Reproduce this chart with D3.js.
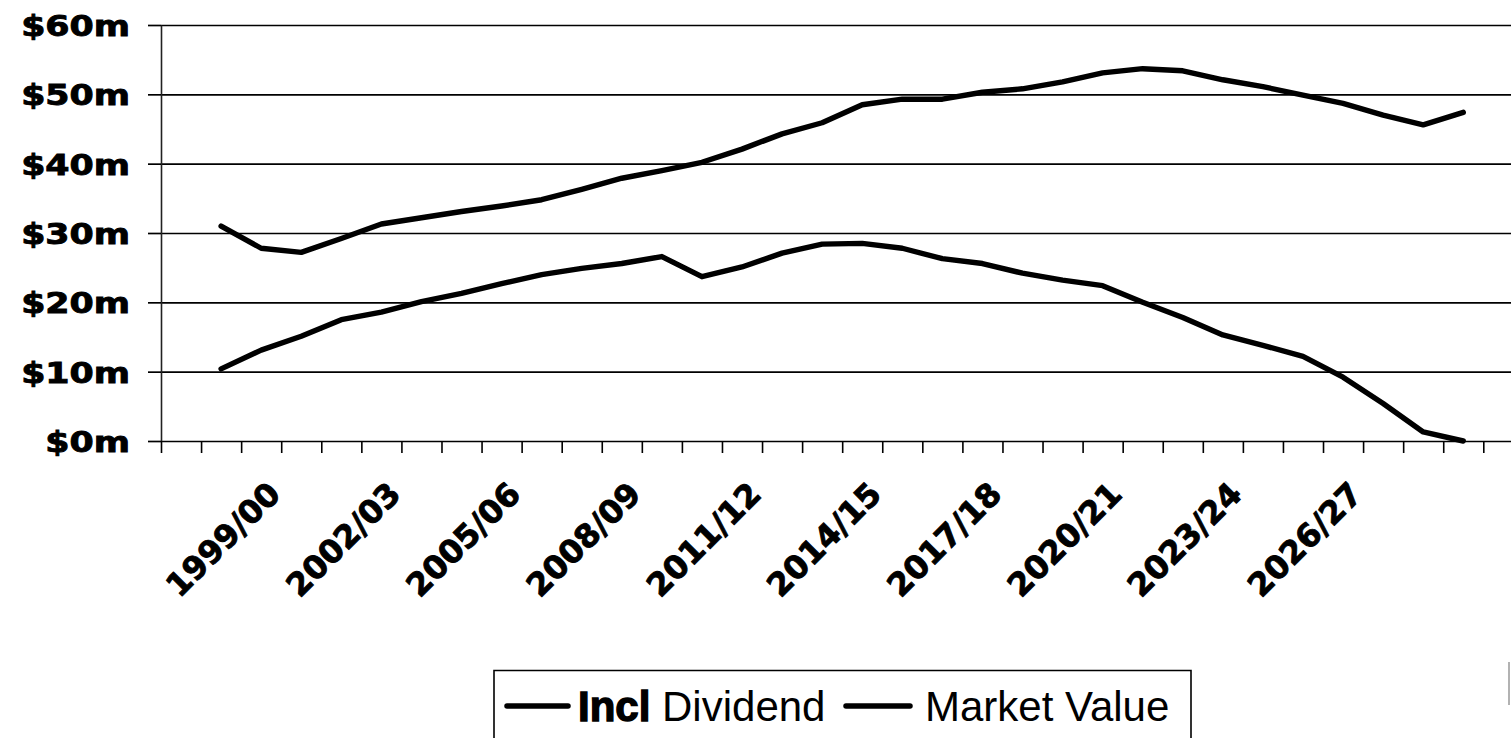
<!DOCTYPE html>
<html>
<head>
<meta charset="utf-8">
<script src="https://cdn.jsdelivr.net/npm/d3@7"></script>
<style>
  html, body { margin: 0; padding: 0; background: #fff; overflow: hidden; }
  svg { display: block; }
</style>
</head>
<body>
<svg id="chart" width="1511" height="738"></svg>
<script>
// ---------------- data ----------------
const categories = [
  "1997/98","1998/99","1999/00","2000/01","2001/02","2002/03","2003/04","2004/05",
  "2005/06","2006/07","2007/08","2008/09","2009/10","2010/11","2011/12","2012/13",
  "2013/14","2014/15","2015/16","2016/17","2017/18","2018/19","2019/20","2020/21",
  "2021/22","2022/23","2023/24","2024/25","2025/26","2026/27","2027/28","2028/29","2029/30"
];
const tickLabels = ["1999/00","2002/03","2005/06","2008/09","2011/12","2014/15","2017/18","2020/21","2023/24","2026/27"];
const inclDividend = [
  null, 31.0, 27.8, 27.2, 29.2, 31.3, 32.2, 33.1, 33.9, 34.8, 36.3, 37.9, 39.0, 40.2, 42.1, 44.3,
  45.9, 48.5, 49.3, 49.3, 50.3, 50.8, 51.8, 53.1, 53.7, 53.4, 52.1, 51.1, 49.9, 48.7, 47.0, 45.6, 47.4
];
const marketValue = [
  null, 10.4, 13.1, 15.1, 17.5, 18.6, 20.1, 21.3, 22.7, 24.0, 24.9, 25.6, 26.6, 23.7, 25.1, 27.1,
  28.4, 28.5, 27.8, 26.3, 25.6, 24.2, 23.2, 22.4, 20.0, 17.8, 15.3, 13.8, 12.2, 9.2, 5.4, 1.3, 0.0
];
const yTicks = [0, 10, 20, 30, 40, 50, 60];
const seriesNames = ["Incl Dividend", "Market Value"];

// ---------------- layout ----------------
const W = 1511, H = 738;
const plotL = 161, plotR = 1483.3, plotT = 25, plotB = 441;
const svg = d3.select("#chart");

const x = d3.scaleBand().domain(categories).range([plotL, plotR]).paddingInner(0).paddingOuter(0);
const xb = d3.scaleLinear().domain([0, categories.length]).range([plotL, plotR]);
const y = d3.scaleLinear().domain([0, 60]).range([plotB, plotT]);

// gridlines
const grid = svg.append("g").attr("transform", `translate(${plotL},0)`)
  .call(d3.axisLeft(y).tickValues(yTicks).tickSize(-(W - plotL)).tickSizeOuter(0).tickFormat(""));
grid.select(".domain").remove();
grid.selectAll("line").attr("stroke", "#000").attr("stroke-width", 1.7);

// y axis with labels
const yAxis = svg.append("g").attr("transform", `translate(${plotL},0)`)
  .call(d3.axisLeft(y).tickValues(yTicks).tickSize(13).tickSizeOuter(0).tickPadding(0)
    .tickFormat(d => `$${d}m`));
yAxis.select(".domain").attr("stroke", "#222").attr("stroke-width", 1.6);
yAxis.selectAll("line").attr("stroke", "#000").attr("stroke-width", 1.7);
const ySX = 1.2;
yAxis.selectAll("text")
  .attr("fill", "#000")
  .attr("stroke", "#000").attr("stroke-width", 0.9)
  .style("font-family", "'DejaVu Sans', sans-serif")
  .style("font-weight", "bold")
  .style("font-size", "29px")
  .attr("text-anchor", "end")
  .attr("dy", "0.36em")
  .attr("x", -31 / ySX)
  .attr("transform", `scale(${ySX},1)`);

// x axis ticks (category boundaries)
const xTicks = svg.append("g").attr("transform", `translate(0,${plotB})`)
  .call(d3.axisBottom(xb).tickValues(d3.range(0, categories.length + 1)).tickSize(12).tickFormat(""));
xTicks.select(".domain").remove();
xTicks.selectAll("line").attr("stroke", "#000").attr("stroke-width", 1.6);

// x axis labels
const xLab = svg.append("g").attr("transform", `translate(0,${plotB})`)
  .call(d3.axisBottom(x).tickValues(tickLabels).tickSize(0));
xLab.select(".domain").remove();
xLab.selectAll("text")
  .attr("fill", "#000")
  .attr("stroke", "#000").attr("stroke-width", 0.9)
  .style("font-family", "'DejaVu Sans', sans-serif")
  .style("font-weight", "bold")
  .style("font-size", "32px")
  .attr("text-anchor", "end")
  .attr("x", 0).attr("y", 0).attr("dy", 0)
  .attr("transform", "translate(21,55) rotate(-45)");

// lines
const line = d3.line()
  .defined(d => d.v != null)
  .x(d => x(d.c) + x.bandwidth() / 2)
  .y(d => y(d.v));
[inclDividend, marketValue].forEach(vals => {
  const data = categories.map((c, i) => ({ c, v: vals[i] }));
  svg.append("path").datum(data)
    .attr("fill", "none").attr("stroke", "#000").attr("stroke-width", 5.4)
    .attr("stroke-linejoin", "round").attr("stroke-linecap", "round")
    .attr("d", line);
});

// legend
const lg = svg.append("g");
lg.append("path").attr("d", "M494,760 L494,670.5 L1191,670.5 L1191,760")
  .attr("fill", "#fff").attr("stroke", "#000").attr("stroke-width", 1.6);
const legY = 706, legBase = 721;
lg.append("line").attr("x1", 507).attr("x2", 568).attr("y1", legY).attr("y2", legY)
  .attr("stroke", "#000").attr("stroke-width", 5.5).attr("stroke-linecap", "round");
const t1 = lg.append("text").attr("x", 578).attr("y", legBase)
  .style("font-family", "'Liberation Sans', Arial, sans-serif").style("font-size", "42px").attr("fill", "#000");
t1.append("tspan").style("font-weight", "bold").attr("stroke", "#000").attr("stroke-width", 1.4).text("Incl");
t1.append("tspan").text(" Dividend");
lg.append("line").attr("x1", 846).attr("x2", 910).attr("y1", legY).attr("y2", legY)
  .attr("stroke", "#000").attr("stroke-width", 5.5).attr("stroke-linecap", "round");
lg.append("text").attr("x", 925).attr("y", legBase)
  .style("font-family", "'Liberation Sans', Arial, sans-serif").style("font-size", "42px").attr("fill", "#000")
  .text(seriesNames[1]);

// stray mark at right edge
svg.append("line").attr("x1", 1509).attr("x2", 1509).attr("y1", 662).attr("y2", 705)
  .attr("stroke", "#999").attr("stroke-width", 1.5);
</script>
</body>
</html>
